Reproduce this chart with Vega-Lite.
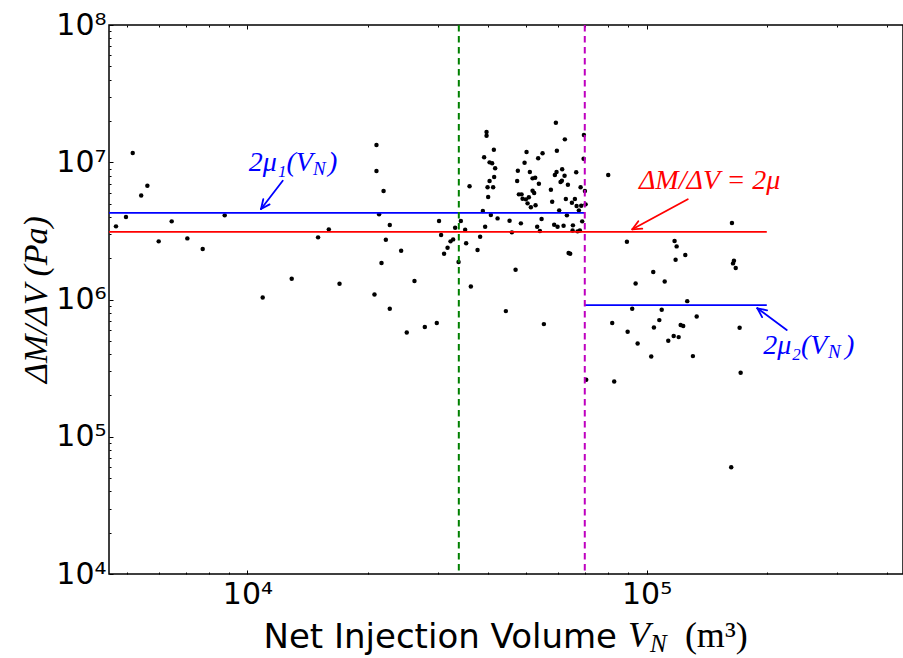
{
  "$schema": "https://vega.github.io/schema/vega-lite/v6.json",
  "width": 794,
  "height": 549,
  "autosize": {"type": "none"},
  "padding": {"left": 109, "top": 25, "right": 0, "bottom": 84},
  "background": "white",
  "config": {
    "view": {"stroke": "black", "strokeWidth": 1.5},
    "axis": {"grid": false, "domain": false, "tickColor": "black", "tickWidth": 1, "labelColor": "black", "labelFont": "DejaVu Sans", "labelFontSize": 30, "titleColor": "black", "labelOverlap": false, "labelFlush": false, "labelBound": false}
  },
  "datasets": {
    "pts": [
      {"x":5160,"y":11670000},{"x":5615,"y":6741000},{"x":5418,"y":5720000},{"x":21050,"y":13350000},{"x":21050,"y":8629000},
      {"x":21930,"y":6168000},{"x":4963,"y":3987000},{"x":4685,"y":3411000},{"x":6461,"y":3709000},{"x":8772,"y":4102000},
      {"x":21370,"y":4172000},{"x":22730,"y":3486000},{"x":5994,"y":2652000},{"x":7071,"y":2788000},{"x":7726,"y":2330000},
      {"x":15030,"y":2836000},{"x":15990,"y":3243000},{"x":22220,"y":2723000},{"x":24270,"y":2265000},{"x":21670,"y":1842000},
      {"x":30200,"y":3728000},{"x":30560,"y":2948000},{"x":31720,"y":2381000},{"x":31090,"y":2154000},{"x":12910,"y":1415000},
      {"x":17010,"y":1301000},{"x":26210,"y":1362000},{"x":10920,"y":1036000},{"x":20810,"y":1089000},{"x":22730,"y":855300},
      {"x":25070,"y":575700},{"x":27820,"y":629500},{"x":29810,"y":673000},{"x":36280,"y":1242000},{"x":32270,"y":2652000},
      {"x":32760,"y":2742000},{"x":33140,"y":3330000},{"x":34250,"y":3728000},{"x":35110,"y":3221000},{"x":35310,"y":2565000},
      {"x":33800,"y":1873000},{"x":37710,"y":2292000},{"x":38280,"y":2864000},{"x":36010,"y":6674000},{"x":38880,"y":4409000},
      {"x":39400,"y":3388000},{"x":40720,"y":4123000},{"x":42330,"y":3900000},{"x":39720,"y":16600000},{"x":39720,"y":15600000},
      {"x":41430,"y":12340000},{"x":39170,"y":10860000},{"x":40420,"y":9980000},{"x":41020,"y":9820000},{"x":41740,"y":9030000},
      {"x":41500,"y":7800000},{"x":40420,"y":7290000},{"x":39950,"y":6563000},{"x":41260,"y":6563000},{"x":40090,"y":5578000},
      {"x":45360,"y":3747000},{"x":45970,"y":3084000},{"x":48420,"y":3587000},{"x":46960,"y":1646000},{"x":47580,"y":8670000},
      {"x":47390,"y":7290000},{"x":50030,"y":11870000},{"x":49460,"y":9920000},{"x":50990,"y":8485000},{"x":51800,"y":7630000},
      {"x":52580,"y":7710000},{"x":53720,"y":6970000},{"x":47860,"y":5834000},{"x":48610,"y":5834000},{"x":48900,"y":5420000},
      {"x":49830,"y":5365000},{"x":50700,"y":5549000},{"x":50320,"y":5017000},{"x":51290,"y":4692000},{"x":52700,"y":4852000},
      {"x":51800,"y":6199000},{"x":52280,"y":5964000},{"x":54560,"y":3855000},{"x":53190,"y":3388000},{"x":54030,"y":3151000},
      {"x":53500,"y":10680000},{"x":54870,"y":11610000},{"x":59250,"y":19410000},{"x":62400,"y":14680000},{"x":59590,"y":12130000},
      {"x":57570,"y":6303000},{"x":58000,"y":5154000},{"x":58910,"y":8067000},{"x":59480,"y":8485000},{"x":61440,"y":8880000},
      {"x":62290,"y":7970000},{"x":60870,"y":7175000},{"x":61330,"y":7334000},{"x":63510,"y":6855000},{"x":66620,"y":8440000},
      {"x":68330,"y":6563000},{"x":69650,"y":15790000},{"x":69530,"y":10600000},{"x":70050,"y":6168000},{"x":62760,"y":5392000},
      {"x":66120,"y":5392000},{"x":60390,"y":4461000},{"x":64990,"y":5068000},{"x":66770,"y":4795000},{"x":68570,"y":4818000},
      {"x":67660,"y":4461000},{"x":70330,"y":4933000},{"x":63140,"y":4102000},{"x":58670,"y":3504000},{"x":59830,"y":3388000},
      {"x":61940,"y":3445000},{"x":65240,"y":3188000},{"x":65370,"y":3468000},{"x":67150,"y":3136000},{"x":68040,"y":3188000},
      {"x":68960,"y":3709000},{"x":63760,"y":2179000},{"x":64350,"y":2154000},{"x":80140,"y":8067000},{"x":163600,"y":3605000},
      {"x":89260,"y":2634000},{"x":117500,"y":2665000},{"x":118900,"y":2438000},{"x":118200,"y":1947000},{"x":125000,"y":2107000},
      {"x":165500,"y":1915000},{"x":164600,"y":1833000},{"x":167200,"y":1694000},{"x":103900,"y":1584000},{"x":93850,"y":1310000},
      {"x":111000,"y":1355000},{"x":126400,"y":973000},{"x":92030,"y":855300},{"x":109100,"y":841000},{"x":133500,"y":753000},
      {"x":82000,"y":673000},{"x":107600,"y":707600},{"x":104300,"y":626300},{"x":121700,"y":651000},{"x":123500,"y":640000},
      {"x":171000,"y":622000},{"x":89630,"y":581500},{"x":94940,"y":478600},{"x":116900,"y":541100},{"x":120300,"y":532000},
      {"x":113300,"y":500000},{"x":102700,"y":384800},{"x":130600,"y":386800},{"x":172000,"y":292200},{"x":70580,"y":259800},
      {"x":82950,"y":253000},{"x":162900,"y":60020},{"x":44400,"y":823000},{"x":55290,"y":661700}
    ],
    "arrows": [
      {"x":12258,"y":7340000,"x2":10816,"y2":4565000,"s":"mu1"},
      {"x":10816,"y":4565000,"x2":11365,"y2":4930000,"s":"mu1"},
      {"x":10816,"y":4565000,"x2":10956,"y2":5380000,"s":"mu1"},
      {"x":126800,"y":5370000,"x2":92100,"y2":3247000,"s":"all"},
      {"x":92100,"y":3247000,"x2":97540,"y2":3280000,"s":"all"},
      {"x":92100,"y":3247000,"x2":95330,"y2":3713000,"s":"all"},
      {"x":224400,"y":599500,"x2":189400,"y2":863000,"s":"mu2"},
      {"x":189400,"y":863000,"x2":194700,"y2":744000,"s":"mu2"},
      {"x":189400,"y":863000,"x2":200400,"y2":834000,"s":"mu2"}
    ],
    "labels": [
      {"x":10075,"y":8670000,"t":"2μ₁(V","s":"mu1"},
      {"x":15920,"y":8670000,"t":")","s":"mu1"},
      {"x":95650,"y":6350000,"t":"ΔM/ΔV = 2μ","s":"all"},
      {"x":195900,"y":400000,"t":"2μ₂(V","s":"mu2"},
      {"x":314100,"y":400000,"t":")","s":"mu2"}
    ],
    "subs": [
      {"x":14600,"y":8070000,"t":"N","s":"mu1"},
      {"x":284700,"y":374000,"t":"N","s":"mu2"}
    ]
  },
  "layer": [
    {
      "layer": [
        {
          "data": {"name": "pts"},
          "mark": {"type": "circle", "color": "black", "opacity": 1, "size": 20},
          "encoding": {
            "x": {"field": "x", "type": "quantitative", "scale": {"type": "log", "domain": [4500, 438800], "nice": false},
              "axis": {"title": "Net Injection Volume", "titleFont": "DejaVu Sans", "titleFontSize": 34, "titleFontWeight": "normal", "titleAlign": "left", "titleBaseline": "alphabetic", "titleX": 154, "titleY": 73, "titleAngle": 0,
                "values": [5000,6000,7000,8000,9000,10000,20000,30000,40000,50000,60000,70000,80000,90000,100000,200000,300000,400000],
                "tickSize": {"condition": {"test": "abs(log(datum.value)/LN10 - round(log(datum.value)/LN10)) < 0.001", "value": -4}, "value": -2},
                "labelPadding": 9,
                "labelExpr": "abs(log(datum.value)/LN10 - round(log(datum.value)/LN10)) < 0.001 ? '10' + ['⁰','¹','²','³','⁴','⁵','⁶','⁷','⁸','⁹'][round(log(datum.value)/LN10)] : ''"}},
            "y": {"field": "y", "type": "quantitative", "scale": {"type": "log", "domain": [10000, 100000000], "nice": false},
              "axis": {"title": "ΔM/ΔV (Pa)", "titleFont": "Liberation Serif", "titleFontStyle": "italic", "titleFontSize": 34, "titleFontWeight": "normal", "titleAngle": -90, "titleAlign": "center", "titleBaseline": "middle", "titleX": -73, "titleY": 274,
                "values": [10000,20000,30000,40000,50000,60000,70000,80000,90000,100000,200000,300000,400000,500000,600000,700000,800000,900000,1000000,2000000,3000000,4000000,5000000,6000000,7000000,8000000,9000000,10000000,20000000,30000000,40000000,50000000,60000000,70000000,80000000,90000000,100000000],
                "tickSize": {"condition": {"test": "abs(log(datum.value)/LN10 - round(log(datum.value)/LN10)) < 0.001", "value": -4}, "value": -2},
                "labelPadding": 7,
                "labelExpr": "abs(log(datum.value)/LN10 - round(log(datum.value)/LN10)) < 0.001 ? '10' + ['⁰','¹','²','³','⁴','⁵','⁶','⁷','⁸','⁹'][round(log(datum.value)/LN10)] : ''"}}
          }
        },
        {
          "data": {"values": [{"x": 4500, "x2": 200000, "y": 3110000}]},
          "mark": {"type": "rule", "color": "#ff0000", "strokeWidth": 1.8},
          "encoding": {
            "x": {"field": "x", "type": "quantitative", "scale": {"type": "log", "domain": [4500, 438800], "nice": false}},
            "x2": {"field": "x2"},
            "y": {"field": "y", "type": "quantitative", "scale": {"type": "log", "domain": [10000, 100000000], "nice": false}}
          }
        },
        {
          "data": {"values": [{"x": 4500, "x2": 70000, "y": 4280000}, {"x": 70000, "x2": 200000, "y": 910000}]},
          "mark": {"type": "rule", "color": "#0000ff", "strokeWidth": 1.8},
          "encoding": {
            "x": {"field": "x", "type": "quantitative", "scale": {"type": "log", "domain": [4500, 438800], "nice": false}},
            "x2": {"field": "x2"},
            "y": {"field": "y", "type": "quantitative", "scale": {"type": "log", "domain": [10000, 100000000], "nice": false}}
          }
        },
        {
          "data": {"values": [{"x": 33850}]},
          "mark": {"type": "rule", "color": "#008000", "strokeWidth": 2, "strokeDash": [6.5, 4.5]},
          "encoding": {
            "x": {"field": "x", "type": "quantitative", "scale": {"type": "log", "domain": [4500, 438800], "nice": false}}
          }
        },
        {
          "data": {"values": [{"x": 70000}]},
          "mark": {"type": "rule", "color": "#bf00bf", "strokeWidth": 2, "strokeDash": [6.5, 4.5]},
          "encoding": {
            "x": {"field": "x", "type": "quantitative", "scale": {"type": "log", "domain": [4500, 438800], "nice": false}}
          }
        },
        {
          "data": {"name": "arrows"},
          "mark": {"type": "rule", "strokeWidth": 1.8, "strokeCap": "round"},
          "encoding": {
            "x": {"field": "x", "type": "quantitative", "scale": {"type": "log", "domain": [4500, 438800], "nice": false}},
            "x2": {"field": "x2"},
            "y": {"field": "y", "type": "quantitative", "scale": {"type": "log", "domain": [10000, 100000000], "nice": false}},
            "y2": {"field": "y2"},
            "color": {"field": "s", "type": "nominal", "scale": {"domain": ["mu1", "mu2", "all"], "range": ["#0000ff", "#0000ff", "#ff0000"]}, "legend": null}
          }
        },
        {
          "data": {"name": "labels"},
          "mark": {"type": "text", "font": "Liberation Serif", "fontStyle": "italic", "fontSize": 28, "align": "left", "baseline": "alphabetic"},
          "encoding": {
            "x": {"field": "x", "type": "quantitative", "scale": {"type": "log", "domain": [4500, 438800], "nice": false}},
            "y": {"field": "y", "type": "quantitative", "scale": {"type": "log", "domain": [10000, 100000000], "nice": false}},
            "text": {"field": "t"},
            "color": {"field": "s", "type": "nominal", "scale": {"domain": ["mu1", "mu2", "all"], "range": ["#0000ff", "#0000ff", "#ff0000"]}, "legend": null}
          }
        },
        {
          "data": {"name": "subs"},
          "mark": {"type": "text", "font": "Liberation Serif", "fontStyle": "italic", "fontSize": 19, "align": "left", "baseline": "alphabetic"},
          "encoding": {
            "x": {"field": "x", "type": "quantitative", "scale": {"type": "log", "domain": [4500, 438800], "nice": false}},
            "y": {"field": "y", "type": "quantitative", "scale": {"type": "log", "domain": [10000, 100000000], "nice": false}},
            "text": {"field": "t"},
            "color": {"field": "s", "type": "nominal", "scale": {"domain": ["mu1", "mu2", "all"], "range": ["#0000ff", "#0000ff", "#ff0000"]}, "legend": null}
          }
        },
        {
          "data": {"values": [{"x": 89760, "y": 2953, "t": "V"}]},
          "mark": {"type": "text", "font": "Liberation Serif", "fontStyle": "italic", "fontSize": 36, "align": "left", "baseline": "alphabetic", "color": "black"},
          "encoding": {
            "x": {"field": "x", "type": "quantitative", "scale": {"type": "log", "domain": [4500, 438800], "nice": false}},
            "y": {"field": "y", "type": "quantitative", "scale": {"type": "log", "domain": [10000, 100000000], "nice": false}},
            "text": {"field": "t"}
          }
        },
        {
          "data": {"values": [{"x": 101900, "y": 2716, "t": "N"}]},
          "mark": {"type": "text", "font": "Liberation Serif", "fontStyle": "italic", "fontSize": 25, "align": "left", "baseline": "alphabetic", "color": "black"},
          "encoding": {
            "x": {"field": "x", "type": "quantitative", "scale": {"type": "log", "domain": [4500, 438800], "nice": false}},
            "y": {"field": "y", "type": "quantitative", "scale": {"type": "log", "domain": [10000, 100000000], "nice": false}},
            "text": {"field": "t"}
          }
        },
        {
          "data": {"values": [{"x": 124700, "y": 2953, "t": "(m³)"}]},
          "mark": {"type": "text", "font": "Liberation Serif", "fontSize": 36, "align": "left", "baseline": "alphabetic", "color": "black"},
          "encoding": {
            "x": {"field": "x", "type": "quantitative", "scale": {"type": "log", "domain": [4500, 438800], "nice": false}},
            "y": {"field": "y", "type": "quantitative", "scale": {"type": "log", "domain": [10000, 100000000], "nice": false}},
            "text": {"field": "t"}
          }
        }
      ]
    },
    {
      "data": {"values": [{"x": 10000}]},
      "mark": {"type": "point", "opacity": 0},
      "encoding": {
        "x": {"field": "x", "type": "quantitative", "scale": {"type": "log", "domain": [4500, 438800], "nice": false},
          "axis": {"orient": "top", "title": null, "labels": false, "domain": false,
            "values": [5000,6000,7000,8000,9000,10000,20000,30000,40000,50000,60000,70000,80000,90000,100000,200000,300000,400000],
            "tickSize": {"condition": {"test": "abs(log(datum.value)/LN10 - round(log(datum.value)/LN10)) < 0.001", "value": -4}, "value": -2}}}
      }
    }
  ],
  "resolve": {"axis": {"x": "independent"}}
}
